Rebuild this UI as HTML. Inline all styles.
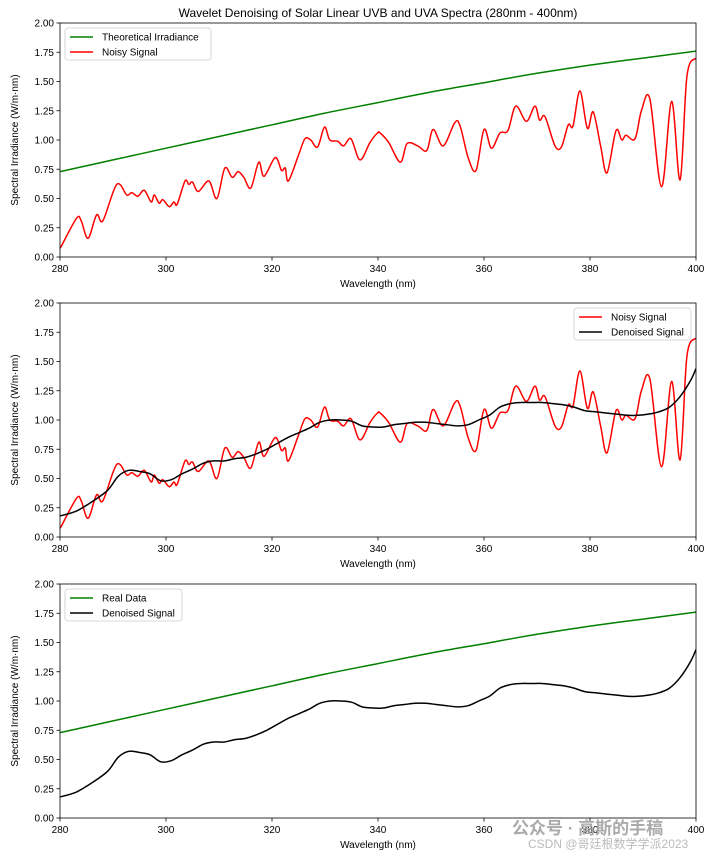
<!DOCTYPE html>
<html><head><meta charset="utf-8"><style>
body{margin:0;background:#fff;font-family:"Liberation Sans","Noto Sans CJK SC",sans-serif}
svg text{font-family:"Liberation Sans","Noto Sans CJK SC",sans-serif}
</style></head><body>
<svg id="c" width="712" height="856" xmlns="http://www.w3.org/2000/svg"></svg>
<script>
const wavelengths=[280,280.2,283.1,284,285.3,286.9,288.1,290.7,292.6,293.5,294.7,295.9,297.2,297.8,298.7,299.4,300.6,301.5,302.1,303.6,304.3,305,306.1,308.1,309.6,311.1,312.5,313.6,314.7,316,317.5,318.5,320.6,321.8,322.5,323.1,325,326.2,327.3,328.6,329.9,330.9,332.4,333.5,334.9,336.6,338.5,339.9,340.4,342,344.2,345.5,347.5,349.2,350.4,352.3,354.5,355.5,357,358.5,360,361.4,363,364.5,366,368,369.6,370.5,371.5,373.4,374.6,375.9,376.8,378.1,379.5,380.6,382,383.2,384.9,386,386.8,388.5,389.7,391.3,393.5,395.4,397,398.3,400];
const noisy=[0.09,0.09,0.33,0.31,0.16,0.36,0.31,0.62,0.53,0.55,0.52,0.57,0.47,0.53,0.46,0.49,0.43,0.47,0.45,0.65,0.62,0.64,0.56,0.65,0.50,0.76,0.68,0.73,0.68,0.59,0.81,0.69,0.85,0.74,0.76,0.65,0.87,1.01,1.00,0.94,1.11,1.00,0.99,0.95,1.01,0.83,0.98,1.06,1.06,0.98,0.81,0.97,0.95,0.91,1.09,0.95,1.15,1.12,0.85,0.74,1.09,0.93,1.06,1.08,1.29,1.16,1.29,1.17,1.20,0.95,0.94,1.13,1.12,1.42,1.10,1.24,0.95,0.72,1.08,1.00,1.04,1.01,1.25,1.35,0.60,1.33,0.66,1.55,1.70];
const theoryX=[280,290,300,310,320,330,340,350,360,370,380,390,400];
const theory=[0.73,0.83,0.93,1.03,1.13,1.23,1.32,1.41,1.49,1.57,1.64,1.70,1.76];
const denX=[280,283,286,289,291,293,295,297,299,301,303,305,307,309,311,313,315,317,319,321,323,325,327,329,331,333,335,337,339,341,343,345,347,349,351,353,355,357,359,361,363,365,367,369,371,373,375,377,379,381,383,385,387,389,391,393,395,397,399,400];
const denoised=[0.18,0.22,0.30,0.40,0.52,0.57,0.56,0.54,0.48,0.49,0.54,0.58,0.63,0.65,0.65,0.67,0.68,0.71,0.75,0.80,0.85,0.89,0.93,0.98,1.00,1.00,0.99,0.95,0.94,0.94,0.96,0.97,0.98,0.98,0.97,0.96,0.95,0.96,1.00,1.04,1.11,1.14,1.15,1.15,1.15,1.14,1.13,1.11,1.08,1.07,1.06,1.05,1.04,1.04,1.05,1.07,1.11,1.20,1.34,1.44];
const xTicks=[280,300,320,340,360,380,400];
const yTicks=[0,0.25,0.5,0.75,1,1.25,1.5,1.75,2];
const yTickLabels=["0.00","0.25","0.50","0.75","1.00","1.25","1.50","1.75","2.00"];
const svg=document.getElementById('c');const NS='http://www.w3.org/2000/svg';
function mk(t,a,p){const e=document.createElementNS(NS,t);for(const k in a)e.setAttribute(k,a[k]);(p||svg).appendChild(e);return e;}
function smooth(pts){let d='M'+pts[0][0].toFixed(1)+','+pts[0][1].toFixed(1);
 for(let i=0;i<pts.length-1;i++){const p0=pts[Math.max(0,i-1)],p1=pts[i],p2=pts[i+1],p3=pts[Math.min(pts.length-1,i+2)];
  const c1=[p1[0]+(p2[0]-p0[0])/6,p1[1]+(p2[1]-p0[1])/6],c2=[p2[0]-(p3[0]-p1[0])/6,p2[1]-(p3[1]-p1[1])/6];
  d+=` C${c1[0].toFixed(1)},${c1[1].toFixed(1)} ${c2[0].toFixed(1)},${c2[1].toFixed(1)} ${p2[0].toFixed(1)},${p2[1].toFixed(1)}`;}
 return d;}
const L=60,R=696;
const panels=[{top:23,bot:257,series:[['theory','green'],['noisy','red']],legend:'left',labels:['Theoretical Irradiance','Noisy Signal'],title:'Wavelet Denoising of Solar Linear UVB and UVA Spectra (280nm - 400nm)'},
{top:303,bot:537,series:[['noisy','red'],['den','black']],legend:'right',labels:['Noisy Signal','Denoised Signal']},
{top:584,bot:818,series:[['theory','green'],['den','black']],legend:'left',labels:['Real Data','Denoised Signal']}];
const sx=v=>L+(v-280)/120*(R-L);
panels.forEach((p,i)=>{
 const g=mk('g',{});
 
 
 const sy=v=>p.bot-v/2*(p.bot-p.top);
 if(p.title){const t=mk('text',{x:(L+R)/2,y:17,'text-anchor':'middle','font-size':12},g);t.textContent=p.title;}
 const data={theory:[theoryX,theory],noisy:[wavelengths,noisy],den:[denX,denoised]};
 mk('clipPath',{id:'cp'+i},g);mk('rect',{x:L,y:p.top,width:R-L,height:p.bot-p.top},g.lastChild);
 p.series.forEach(([k,c])=>{const [xs,ys]=data[k];
  const pl=mk('path',{d:smooth(xs.map((x,j)=>[sx(x),sy(ys[j])])),fill:'none',stroke:c,'stroke-width':1.5,'stroke-linejoin':'round','clip-path':'url(#cp'+i+')'},g);
  
  });
 const fr=mk('rect',{x:L,y:p.top,width:R-L,height:p.bot-p.top,fill:'none',stroke:'#000','stroke-width':0.8},g);
 
 xTicks.forEach(v=>{mk('line',{x1:sx(v),x2:sx(v),y1:p.bot,y2:p.bot+3.5,stroke:'#000','stroke-width':0.8},g);
  const t=mk('text',{x:sx(v),y:p.bot+15,'text-anchor':'middle','font-size':10},g);t.textContent=v;
  });
 yTicks.forEach((v,j)=>{mk('line',{x1:L-3.5,x2:L,y1:sy(v),y2:sy(v),stroke:'#000','stroke-width':0.8},g);
  const t=mk('text',{x:L-6,y:sy(v)+3.5,'text-anchor':'end','font-size':10},g);t.textContent=yTickLabels[j];
  });
 const xl=mk('text',{x:(L+R)/2,y:p.bot+30,'text-anchor':'middle','font-size':10},g);xl.textContent='Wavelength (nm)';
 
 const cy=(p.top+p.bot)/2;
 const yl=mk('text',{x:0,y:0,'text-anchor':'middle','font-size':10,transform:`translate(18,${cy}) rotate(-90)`},g);yl.textContent='Spectral Irradiance (W/m·nm)';
 
 const lw=p.legend=='left'?(i==0?146:117):117;const lx=p.legend=='left'?L+5:R-5-lw,ly=p.top+5;
 const lg=mk('g',{},g);
 mk('rect',{x:lx,y:ly,width:lw,height:32,rx:3,fill:'#fff',stroke:'#ccc','stroke-width':0.8},lg);
 p.series.forEach(([k,c],j)=>{const yy=ly+9+j*15;mk('line',{x1:lx+5,x2:lx+28,y1:yy,y2:yy,stroke:c,'stroke-width':1.5},lg);
  const t=mk('text',{x:lx+37,y:yy+3.5,'font-size':10},lg);t.textContent=p.labels[j];
  });
});
const w1=mk('text',{x:512,y:834,'font-size':17,fill:'#aaa','font-weight':'bold'});w1.textContent='公众号 · 高斯的手稿';

const w2=mk('text',{x:528,y:848,'font-size':12,fill:'#bbb'});w2.textContent='CSDN @哥廷根数学学派2023';

</script>
</body></html>
